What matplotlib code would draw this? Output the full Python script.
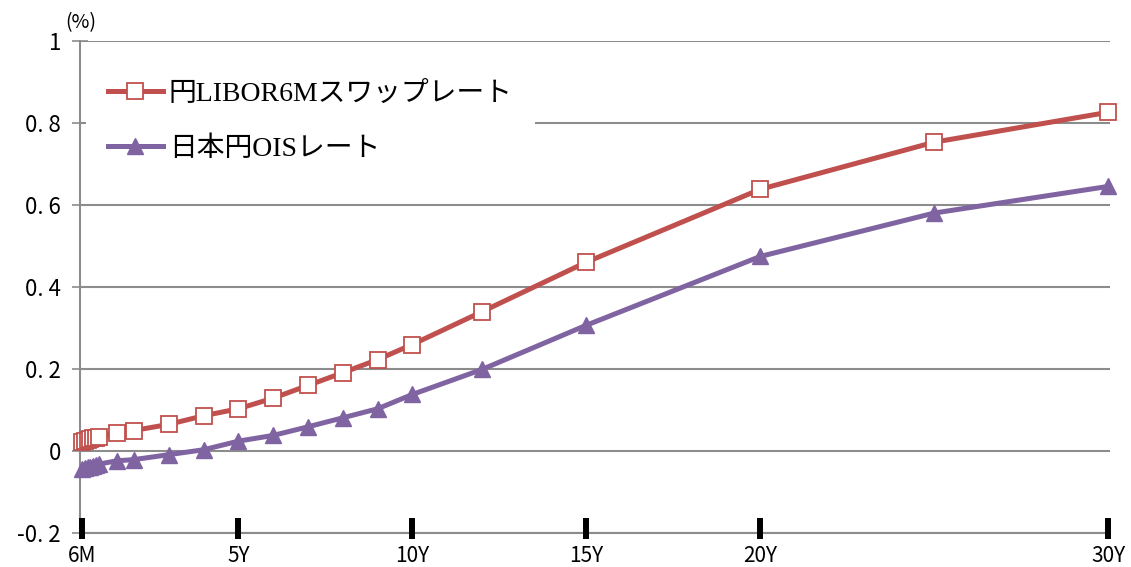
import matplotlib
matplotlib.use("Agg")
import matplotlib.pyplot as plt
from matplotlib.ticker import FixedLocator

plt.rcParams['font.family'] = ['Noto Sans CJK JP', 'DejaVu Sans']

# tenor in years
tenors = [0.5, 7/12, 8/12, 9/12, 10/12, 11/12, 1, 1.5, 2, 3, 4, 5, 6, 7, 8, 9,
          10, 12, 15, 20, 25, 30]
libor_swap = [0.022, 0.024, 0.026, 0.028, 0.030, 0.031, 0.033, 0.044, 0.049,
              0.064, 0.085, 0.102, 0.128, 0.159, 0.190, 0.222, 0.259, 0.339,
              0.460, 0.638, 0.753, 0.826]
ois = [-0.045, -0.043, -0.041, -0.039, -0.037, -0.035, -0.033, -0.025, -0.022,
       -0.010, 0.002, 0.023, 0.037, 0.058, 0.080, 0.102, 0.137, 0.198, 0.306,
       0.474, 0.580, 0.645]

x_ticks = [0.5, 5, 10, 15, 20, 30]
x_labels = ['6M', '5Y', '10Y', '15Y', '20Y', '30Y']
y_ticks = [-0.2, 0, 0.2, 0.4, 0.6, 0.8, 1.0]
y_labels = ['-0. 2', '0', '0. 2', '0. 4', '0. 6', '0. 8', '1']

RED = '#C0504D'
PURPLE = '#8064A2'
GRID = '#8c8c8c'

fig = plt.figure(figsize=(11.31, 5.67), dpi=100)
ax = fig.add_axes([80/1131, 1 - 532.5/567, 1030/1131, (532.5 - 41)/567])

ax.plot(tenors, libor_swap, color=RED, lw=3.6, marker='s', ms=11,
        mfc='white', mec=RED, mew=1.3, clip_on=False, zorder=4,
        label='円LIBOR6Mスワップレート')
ax.plot(tenors, ois, color=PURPLE, lw=3.6, marker='^', ms=11,
        mfc=PURPLE, mec=PURPLE, clip_on=False, zorder=4,
        label='日本円OISレート')

ax.set_xlim(0.45, 30.05)
ax.set_ylim(-0.2, 1.0)

ax.set_yticks(y_ticks)
ax.set_yticklabels(y_labels)
ax.yaxis.grid(True, color=GRID, lw=1.5)
ax.set_axisbelow(True)

# thick black x ticks: long part inside, short stub outside
ax.set_xticks(x_ticks)
ax.set_xticklabels(x_labels)
ax.xaxis.remove_overlapping_locs = False
ax.xaxis.set_minor_locator(FixedLocator(x_ticks))
ax.tick_params(axis='x', which='major', direction='in', length=10.5, width=4.3,
               color='black', pad=9, labelsize=15)
ax.tick_params(axis='x', which='minor', direction='out', length=4, width=4.3,
               color='black')
ax.tick_params(axis='y', direction='inout', length=11.5, width=1.2,
               color=GRID, pad=8, labelsize=16)
ax.xaxis.set_zorder(0.6)   # black ticks over the gray bottom line

for s in ['top', 'right']:
    ax.spines[s].set_visible(False)
for s in ['left', 'bottom']:
    ax.spines[s].set_color(GRID)
    ax.spines[s].set_linewidth(1.5)
    ax.spines[s].set_zorder(0.4)

fig.text(81/1131, 1 - 23/567, '(%)', ha='center', va='center', fontsize=14)

leg = ax.legend(loc='upper left', bbox_to_anchor=(0.006, 0.963),
                prop={'family': ['Liberation Serif', 'Noto Sans CJK JP'],
                      'size': 20},
                frameon=True, fancybox=False, edgecolor='none',
                facecolor='white', framealpha=1, handlelength=1.95,
                handletextpad=0.22, labelspacing=1.05, borderpad=0.8,
                borderaxespad=0, numpoints=1)
leg.set_zorder(5)

fig.savefig('out.png', dpi=100)
